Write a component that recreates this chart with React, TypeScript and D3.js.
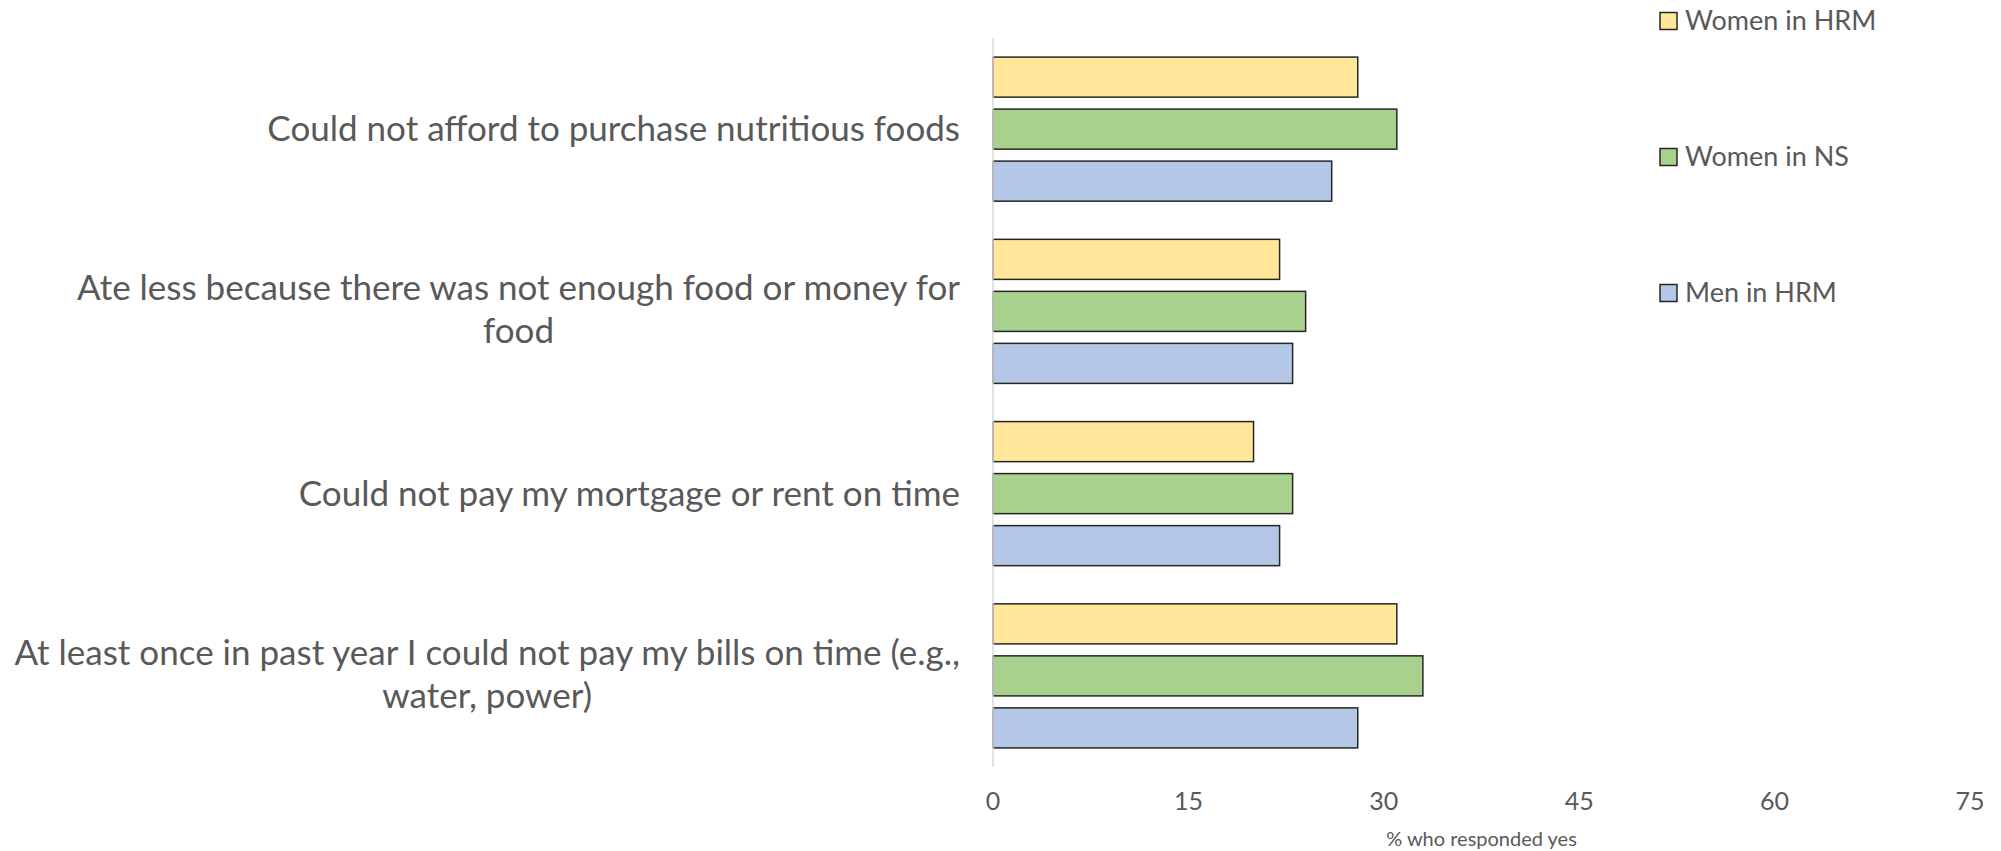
import React, { useRef, useEffect } from 'react';
import * as d3 from 'd3';

// categories, top to bottom
const categories: string[][] = [
    ['Could not afford to purchase nutritious foods'],
    ['Ate less because there was not enough food or money for', 'food'],
    ['Could not pay my mortgage or rent on time'],
    ['At least once in past year I could not pay my bills on time (e.g.,', 'water, power)'],
];

const seriesNames = ['Women in HRM', 'Women in NS', 'Men in HRM'];
const seriesColors = ['#FFE699', '#A9D18E', '#B4C7E7'];

// % who responded yes, same order as categories
const womenHRM = [28, 22, 20, 31];
const womenNS = [31, 24, 23, 33];
const menHRM = [26, 23, 22, 28];

const xTicks = [0, 15, 30, 45, 60, 75];

const App: React.FC = () => {
    const svgRef = useRef<SVGSVGElement | null>(null);

    useEffect(() => {
        if (!svgRef.current) return;
        const svg = d3.select(svgRef.current);
        svg.selectAll('*').remove();

        const font = 'Lato, "Open Sans", sans-serif';
        const textColor = '#595959';
        const values = [womenHRM, womenNS, menHRM];

        const x = d3.scaleLinear().domain([0, 75]).range([993, 1970]);
        const y0 = d3.scaleBand<number>()
            .domain(d3.range(categories.length))
            .range([38, 767]);
        const y1 = d3.scaleBand<number>()
            .domain(d3.range(seriesNames.length))
            .range([0, y0.bandwidth()])
            .paddingInner(0.23)
            .paddingOuter(0.367);

        // bars
        const groups = svg.append('g').selectAll('g')
            .data(categories.map((_, i) => i))
            .enter().append('g')
            .attr('transform', i => `translate(0,${y0(i)})`);

        groups.selectAll('rect')
            .data(i => values.map((s, k) => ({ k, v: s[i] })))
            .enter().append('rect')
            .attr('x', x(0))
            .attr('y', d => y1(d.k) as number)
            .attr('width', d => x(d.v) - x(0))
            .attr('height', y1.bandwidth())
            .attr('fill', d => seriesColors[d.k])
            .attr('stroke', '#262626')
            .attr('stroke-width', 1.5);

        // vertical axis line
        svg.append('line')
            .attr('x1', x(0)).attr('x2', x(0))
            .attr('y1', 38).attr('y2', 767)
            .attr('stroke', '#d9d9d9')
            .attr('stroke-width', 1.5);

        // category labels: block right-aligned to the axis, lines centred within it
        const lineH = 43;
        categories.forEach((lines, i) => {
            const cy = (y0(i) as number) + y0.bandwidth() / 2 - (lines.length > 1 ? 2 : 0);
            const g = svg.append('g');
            const texts = lines.map((ln, j) => g.append('text')
                .attr('y', cy + (j - (lines.length - 1) / 2) * lineH)
                .attr('dy', '0.35em')
                .attr('text-anchor', 'middle')
                .style('font-family', font)
                .style('font-size', '35px')
                .style('fill', textColor)
                .text(ln));
            const w = d3.max(texts, t => (t.node() as SVGTextElement).getComputedTextLength()) || 0;
            texts.forEach(t => t.attr('x', 960 - w / 2));
        });

        // x tick labels
        svg.append('g').selectAll('text')
            .data(xTicks)
            .enter().append('text')
            .attr('x', d => x(d))
            .attr('y', 810)
            .attr('text-anchor', 'middle')
            .style('font-family', font)
            .style('font-size', '25px')
            .style('fill', textColor)
            .text(d => d);

        svg.append('text')
            .attr('x', (x(30) + x(45)) / 2)
            .attr('y', 846)
            .attr('text-anchor', 'middle')
            .style('font-family', font)
            .style('font-size', '20px')
            .style('fill', textColor)
            .text('% who responded yes');

        // legend
        const legend = svg.append('g').selectAll('g')
            .data(seriesNames)
            .enter().append('g')
            .attr('transform', (d, i) => `translate(1660,${21 + i * 136})`);

        legend.append('rect')
            .attr('x', 0)
            .attr('y', -8.5)
            .attr('width', 17)
            .attr('height', 17)
            .attr('fill', (d, i) => seriesColors[i])
            .attr('stroke', '#262626')
            .attr('stroke-width', 1.5);

        legend.append('text')
            .attr('x', 25)
            .attr('y', 0)
            .attr('dy', '0.35em')
            .style('font-family', font)
            .style('font-size', '27px')
            .style('fill', textColor)
            .text(d => d);
    }, []);

    return (
        <svg ref={svgRef} width={2001} height={851}
            style={{ position: 'absolute', left: 0, top: 0, background: '#fff' }} />
    );
};

export default App;
